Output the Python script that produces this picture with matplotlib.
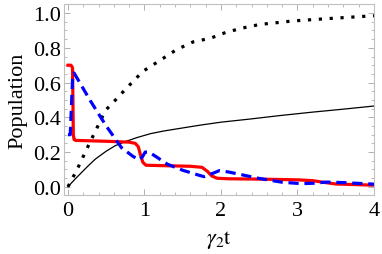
import numpy as np
import matplotlib
matplotlib.use("Agg")
from matplotlib import pyplot as plt
from matplotlib.ticker import MultipleLocator, FormatStrFormatter

# red solid curve
red_t = [0, 0.04, 0.06, 0.065, 0.07, 0.08, 0.1, 0.5, 0.8, 0.88, 0.92, 0.95, 0.98, 1.02,
         1.2, 1.6, 1.75, 1.82, 1.88, 1.95, 2.1, 2.5, 3.0, 3.2, 3.35, 3.5, 4.0]
red_y = [0.70, 0.70, 0.685, 0.50, 0.30, 0.272, 0.267, 0.262, 0.257, 0.25, 0.23, 0.18, 0.14,
         0.124, 0.122, 0.118, 0.112, 0.09, 0.062, 0.049, 0.046, 0.044, 0.04, 0.035, 0.025, 0.016, 0.009]

# blue dashed curve
blue_t = [0, 0.03, 0.06, 0.08, 0.3, 0.5, 0.7, 0.85, 0.93, 0.97, 1.01, 1.06, 1.3, 1.5, 1.7,
          1.78, 1.88, 1.98, 2.1, 2.5, 2.8, 3.05, 3.2, 3.38, 3.6, 4.0]
blue_y = [0.30, 0.30, 0.62, 0.655, 0.49, 0.35, 0.225, 0.175, 0.155, 0.17, 0.2, 0.2, 0.13,
          0.095, 0.068, 0.058, 0.075, 0.093, 0.085, 0.048, 0.026, 0.018, 0.02, 0.027, 0.024, 0.015]

# black dotted curve
dot_t = [0, 0.12, 0.27, 0.38, 0.49, 0.6, 0.77, 0.98, 1.2, 1.42, 1.64, 1.86, 2.07, 2.29,
         2.51, 2.73, 2.94, 3.38, 4.0]
dot_y = [0, 0.1, 0.24, 0.34, 0.44, 0.49, 0.57, 0.665, 0.727, 0.79, 0.835, 0.855, 0.89,
         0.915, 0.935, 0.945, 0.955, 0.968, 0.985]

# black thin curve
sol_t = [0, 0.09, 0.18, 0.27, 0.36, 0.5, 0.62, 0.75, 0.9, 1.08, 1.25, 1.46, 1.73, 2.0,
         2.38, 2.77, 3.2, 3.6, 4.0]
sol_y = [0, 0.043, 0.083, 0.123, 0.16, 0.205, 0.237, 0.26, 0.283, 0.306, 0.321, 0.336,
         0.355, 0.372, 0.39, 0.41, 0.43, 0.447, 0.465]

plt.rcParams["font.family"] = "Liberation Serif"
plt.rcParams["mathtext.fontset"] = "stix"

fig = plt.figure(figsize=(3.82, 2.55), dpi=100)
ax = fig.add_axes([0.1675, 0.231, 0.8115, 0.749])

ax.plot(sol_t, sol_y, color="black", lw=0.9)
ax.plot(dot_t, dot_y, color="black", lw=2.3, linestyle=(0, (1, 2.4)))
ax.plot(red_t, red_y, color="#ff0000", lw=2.3)
ax.plot(blue_t, blue_y, color="#0000ff", lw=2.3, linestyle=(0, (3.2, 1.8)))

ax.set_xlim(-0.052, 4.0)
ax.set_ylim(-0.048, 1.052)
ax.xaxis.set_major_locator(MultipleLocator(1))
ax.xaxis.set_minor_locator(MultipleLocator(0.2))
ax.yaxis.set_major_locator(MultipleLocator(0.2))
ax.yaxis.set_minor_locator(MultipleLocator(0.05))
ax.xaxis.set_major_formatter(FormatStrFormatter("%d"))
ax.yaxis.set_major_formatter(FormatStrFormatter("%.1f"))

for s in ax.spines.values():
    s.set_color("#c0c0c0")
    s.set_linewidth(0.8)
ax.tick_params(which="both", direction="in", top=True, right=True, color="#b0b0b0",
               labelsize=16, labelcolor="black")
ax.tick_params(which="major", length=4, width=0.7)
ax.tick_params(which="minor", length=2.2, width=0.6)
ax.tick_params(axis="y", pad=2)
ax.tick_params(axis="x", pad=4)

ax.set_xlabel(r"$\gamma_2\mathrm{t}$", fontsize=16, labelpad=6)
ax.set_ylabel("Population", fontsize=16, labelpad=4)

fig.savefig("out.png", dpi=100)
